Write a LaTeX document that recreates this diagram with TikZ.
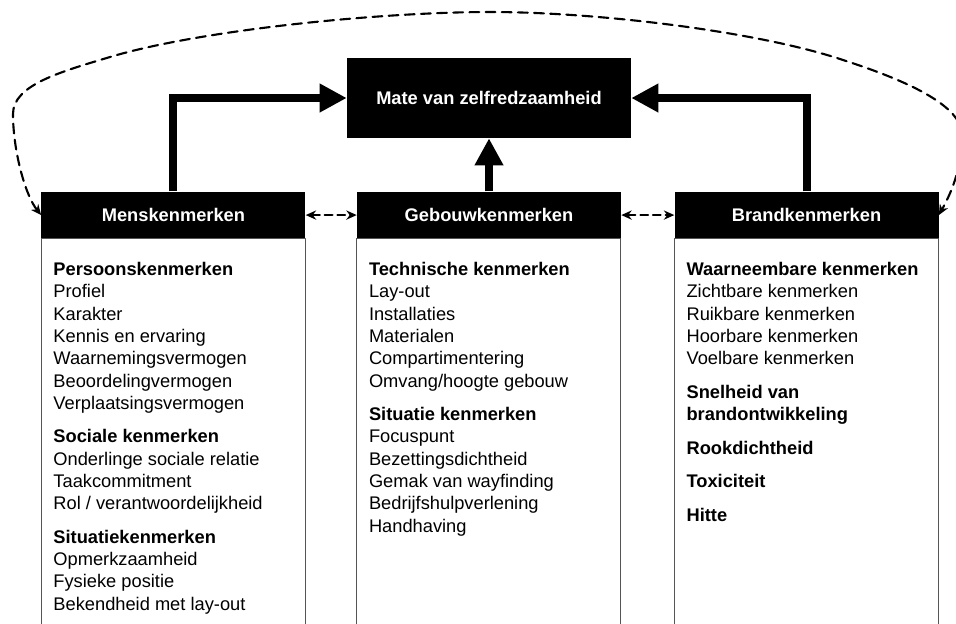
\documentclass[tikz,border=0pt]{standalone}
\usepackage{fontspec}
\setmainfont{Liberation Sans}
\usepackage{tikz}
\usetikzlibrary{arrows.meta,positioning}
\definecolor{framegray}{RGB}{85,85,85}
\newcommand{\labelfont}{\fontsize{13}{15.86}\selectfont}

\tikzset{
  mainbox/.style={fill=black, text=white, font=\labelfont\bfseries,
    minimum width=7.1cm, minimum height=2cm, inner sep=0pt},
  headbox/.style={fill=black, text=white, font=\labelfont\bfseries,
    minimum width=6.6cm, minimum height=1.175cm, inner sep=0pt},
  listbody/.style={align=left, inner sep=0pt, anchor=north west,
    font=\labelfont},
  listframe/.style={draw=framegray, line width=.8pt},
  influence/.style={line width=5.7pt, line cap=butt, line join=miter,
    -{Triangle[length=.675cm,width=.675cm]}},
  interplay/.style={line width=1.5pt, dash pattern=on 5.5pt off 3.5pt,
    {Stealth[length=2.6mm,width=2.3mm]}-{Stealth[length=2.6mm,width=2.3mm]}},
  feedback/.style={line width=1.5pt, dash pattern=on 7pt off 4.5pt,
    {Stealth[length=2.6mm,width=2.3mm]}-{Stealth[length=2.6mm,width=2.3mm]}}
}

\begin{document}
\begin{tikzpicture}[line cap=round, line join=round]
  \useasboundingbox (0,0) rectangle (23.9,-15.575);

  \node[mainbox] (mate) at (12.225,-2.45) {Mate van zelfredzaamheid};
  \node[headbox, below=1.325cm of mate] (gebouw) {Gebouwkenmerken};
  \node[headbox, left=1.275cm of gebouw] (mens) {Menskenmerken};
  \node[headbox, right=1.325cm of gebouw] (brand) {Brandkenmerken};

  % Open list frames; they run on past the lower edge of the page.
  \foreach \kind in {mens,gebouw,brand}{%
    \draw[listframe] (\kind.south west) rectangle ++(6.6,-10.5);
  }

  \node[listbody] (menslist) at ([shift={(.3,-.58)}]mens.south west)
    {\textbf{Persoonskenmerken}\\
     Profiel\\
     Karakter\\
     Kennis en ervaring\\
     Waarnemingsvermogen\\
     Beoordelingvermogen\\
     Verplaatsingsvermogen\\[8pt]
     \textbf{Sociale kenmerken}\\
     Onderlinge sociale relatie\\
     Taakcommitment\\
     Rol / verantwoordelijkheid\\[8pt]
     \textbf{Situatiekenmerken}\\
     Opmerkzaamheid\\
     Fysieke positie\\
     Bekendheid met lay-out};

  \node[listbody] (gebouwlist) at ([shift={(.3,-.58)}]gebouw.south west)
    {\textbf{Technische kenmerken}\\
     Lay-out\\
     Installaties\\
     Materialen\\
     Compartimentering\\
     Omvang/hoogte gebouw\\[8pt]
     \textbf{Situatie kenmerken}\\
     Focuspunt\\
     Bezettingsdichtheid\\
     Gemak van wayfinding\\
     Bedrijfshulpverlening\\
     Handhaving};

  \node[listbody] (brandlist) at ([shift={(.3,-.58)}]brand.south west)
    {\textbf{Waarneembare kenmerken}\\
     Zichtbare kenmerken\\
     Ruikbare kenmerken\\
     Hoorbare kenmerken\\
     Voelbare kenmerken\\[8pt]
     \textbf{Snelheid van}\\
     \textbf{brandontwikkeling}\\[8pt]
     \textbf{Rookdichtheid}\\[8pt]
     \textbf{Toxiciteit}\\[8pt]
     \textbf{Hitte}};

  % Solid arrows into the central box.
  \draw[influence] (mens.north) |- (mate.west);
  \draw[influence] (gebouw.north) -- (mate.south);
  \draw[influence] (brand.north) |- (mate.east);

  % Mutual influence between the three groups.
  \draw[interplay] (mens.east) -- (gebouw.west);
  \draw[interplay] (gebouw.east) -- (brand.west);
  \draw[feedback] (mens.west)
    .. controls (.625,-4.875) and (.325,-3.75) .. (.325,-2.85)
    .. controls (.325,-2.125) and (1.5,-1.8) .. (2.75,-1.425)
    .. controls (5.0,-.75) and (9.5,-.3) .. (12.25,-.3)
    .. controls (15.0,-.3) and (19.0,-.8) .. (21.075,-1.5)
    .. controls (22.625,-2.0) and (24.05,-2.625) .. (24.05,-3.375)
    .. controls (24.05,-4.25) and (23.75,-4.875) .. (brand.east);
\end{tikzpicture}
\end{document}
